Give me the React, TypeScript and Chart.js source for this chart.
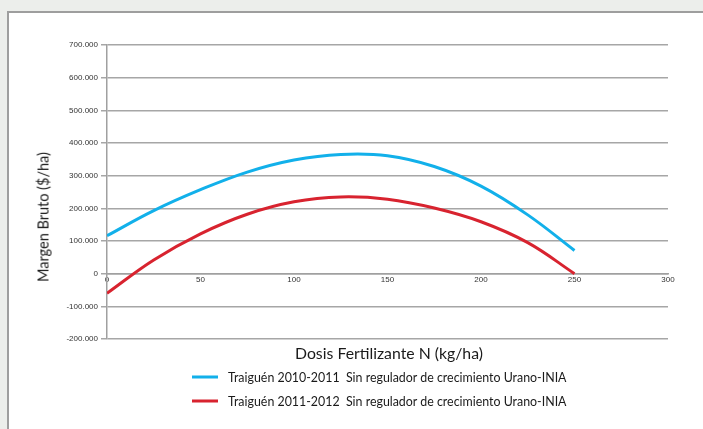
import React, { useEffect, useRef } from "react";
import { Chart, registerables } from "chart.js";

Chart.register(...registerables);

const doses = [0, 25, 50, 75, 100, 125, 150, 175, 200, 225, 250];
const margin2010 = [116000, 193000, 257000, 311000, 348000, 365000, 361000, 328000, 268000, 180000, 71000];
const margin2011 = [-60000, 42000, 122000, 182000, 220000, 235000, 228000, 201000, 159000, 95000, 0];
const seriesLabels = [
  "Traiguén 2010-2011  Sin regulador de crecimiento Urano-INIA",
  "Traiguén 2011-2012  Sin regulador de crecimiento Urano-INIA",
];
const seriesColors = ["#12b0ea", "#d8232f"];
const xTitle = "Dosis Fertilizante N (kg/ha)";
const yTitle = "Margen Bruto ($/ha)";

const fmt = (v: number) => {
  const neg = v < 0;
  const s = Math.abs(v).toString().replace(/\B(?=(\d{3})+(?!\d))/g, ".");
  return (neg ? "-" : "") + s;
};

const textFont = "Lato, 'Open Sans', sans-serif";
const tickFont = "'Liberation Sans Narrow', 'Liberation Sans', Arial, sans-serif";

export default function App() {
  const ref = useRef<HTMLCanvasElement | null>(null);

  useEffect(() => {
    if (!ref.current) return;
    const chart = new Chart(ref.current, {
      type: "line",
      data: {
        datasets: [margin2010, margin2011].map((vals, i) => ({
          label: seriesLabels[i],
          data: vals.map((y, j) => ({ x: doses[j], y })),
          borderColor: seriesColors[i],
          backgroundColor: seriesColors[i],
          borderWidth: 3,
          pointRadius: 0,
          tension: 0.4,
          fill: false,
        })),
      },
      options: {
        animation: false,
        responsive: false,
        devicePixelRatio: 1,
        layout: { padding: { left: 0, top: 45, right: 35, bottom: 90 } },
        plugins: { legend: { display: false }, tooltip: { enabled: false } },
        scales: {
          x: {
            type: "linear",
            position: { y: 0 },
            min: 0,
            max: 300,
            ticks: {
              stepSize: 50,
              padding: 1,
              color: "#333",
              font: { family: tickFont, size: 8 },
              maxRotation: 0,
            },
            grid: { display: false, drawTicks: false },
            border: { color: "#a0a0a0", width: 1.5 },
          },
          y: {
            type: "linear",
            min: -200000,
            max: 700000,
            afterFit: (axis: any) => {
              axis.width = 107;
            },
            ticks: {
              stepSize: 100000,
              padding: 3,
              color: "#333",
              font: { family: tickFont, size: 8 },
              callback: (v: any) => fmt(Number(v)),
            },
            grid: { color: "#a6a6a6", lineWidth: 1.5, tickLength: 6 },
            border: { color: "#a0a0a0", width: 1.5 },
          },
        },
      },
    });
    return () => chart.destroy();
  }, []);

  return (
    <div style={{ position: "fixed", left: 0, top: 0, width: 703, height: 429, background: "#eceeeb", overflow: "hidden" }}>
      <div
        style={{
          position: "absolute",
          left: 7,
          top: 11,
          width: 720,
          height: 450,
          background: "#ffffff",
          borderTop: "2px solid #9e9e9e",
          borderLeft: "2px solid #9e9e9e",
        }}
      />
      <canvas ref={ref} width={703} height={429} style={{ position: "absolute", left: 0, top: 0, width: 703, height: 429 }} />
      <div
        style={{
          position: "absolute",
          left: 43,
          top: 217,
          transform: "translate(-50%, -50%) rotate(-90deg)",
          whiteSpace: "nowrap",
          fontFamily: textFont,
          fontSize: 14.5,
          color: "#1a1a1a",
        }}
      >
        {yTitle}
      </div>
      <div
        style={{
          position: "absolute",
          left: 389,
          top: 352,
          transform: "translate(-50%, -50%)",
          whiteSpace: "nowrap",
          fontFamily: textFont,
          fontSize: 15.8,
          color: "#1a1a1a",
        }}
      >
        {xTitle}
      </div>
      {seriesLabels.map((lab, i) => (
        <div
          key={i}
          style={{
            position: "absolute",
            left: 192,
            top: 377 + i * 24,
            transform: "translateY(-50%)",
            display: "flex",
            alignItems: "center",
            whiteSpace: "pre",
            fontFamily: textFont,
            fontSize: 12.4,
            color: "#1a1a1a",
          }}
        >
          <span style={{ display: "inline-block", width: 26, height: 3.5, background: seriesColors[i], marginRight: 10 }} />
          <span>{lab}</span>
        </div>
      ))}
    </div>
  );
}
